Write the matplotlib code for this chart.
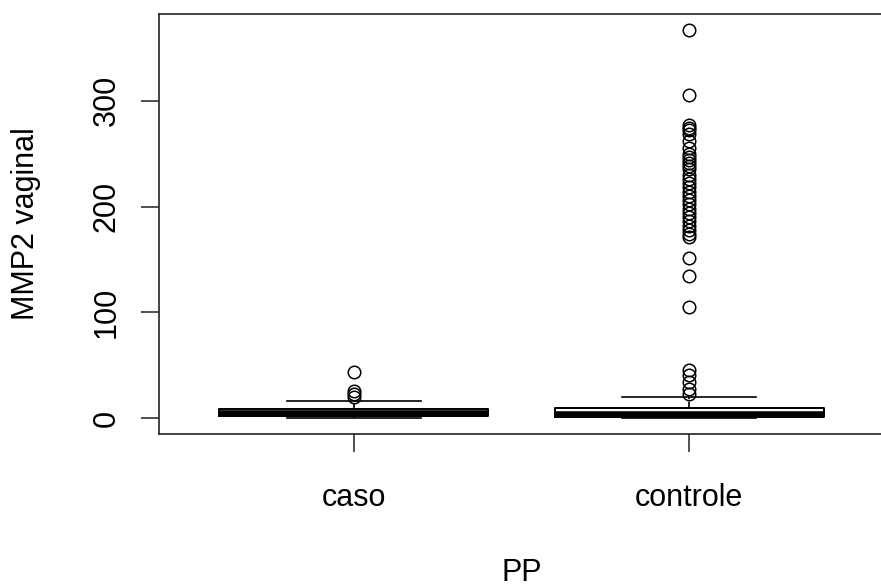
import matplotlib
matplotlib.use("Agg")
from matplotlib import pyplot as plt

plt.rcParams['font.family'] = ['Liberation Sans', 'DejaVu Sans']

groups = ["caso", "controle"]

# box statistics
whislo = [0, 0]
q1 = [2, 1.5]
med = [5, 4]
q3 = [8.5, 10]
whishi = [16, 20]

caso_out = [44, 26, 23, 20]
controle_out = [367, 305, 277, 274, 272, 268, 262, 255, 250, 247, 244, 241, 238,
                235, 230, 226, 222, 218, 214, 210, 206, 202, 198, 194, 190, 186,
                182, 178, 174, 171, 151, 134, 105, 46, 41, 34, 28, 23]
outliers = [caso_out, controle_out]

stats = []
for i, name in enumerate(groups):
    stats.append(dict(label=name, whislo=whislo[i], q1=q1[i], med=med[i],
                      q3=q3[i], whishi=whishi[i], fliers=outliers[i]))

fig = plt.figure(figsize=(8.81, 5.88), dpi=100)
ax = fig.add_axes([159 / 881, 154 / 588, 725 / 881, 420 / 588])

ax.bxp(stats, positions=[1, 2], widths=0.8, showfliers=True,
       boxprops=dict(color="black", linewidth=1.4),
       medianprops=dict(color="black", linewidth=4, solid_capstyle="butt"),
       whiskerprops=dict(color="black", linewidth=1.2, linestyle="--"),
       capprops=dict(color="black", linewidth=1.2),
       flierprops=dict(marker="o", markerfacecolor="none", markeredgecolor="black",
                       markersize=9, markeredgewidth=1.1))

ymax = max(max(o) for o in outliers)
ymin = 0
pad = (ymax - ymin) * 0.04
ax.set_xlim(0.42, 2.58)
ax.set_ylim(ymin - pad, ymax + pad)

fs = 22
ax.set_yticks([0, 100, 200, 300])
ax.set_yticklabels(["0", "100", "200", "300"], rotation=90, va="center")
ax.tick_params(axis="both", length=13, width=1.2, labelsize=fs, color="#333333")
ax.tick_params(axis="y", pad=14)
ax.tick_params(axis="x", pad=22)

for s in ax.spines.values():
    s.set_linewidth(1.2)
    s.set_color("#222222")

ax.set_xlabel("PP", fontsize=fs, labelpad=33)
ax.set_ylabel("MMP2 vaginal", fontsize=fs, labelpad=36)

fig.savefig("out.png", dpi=100)
